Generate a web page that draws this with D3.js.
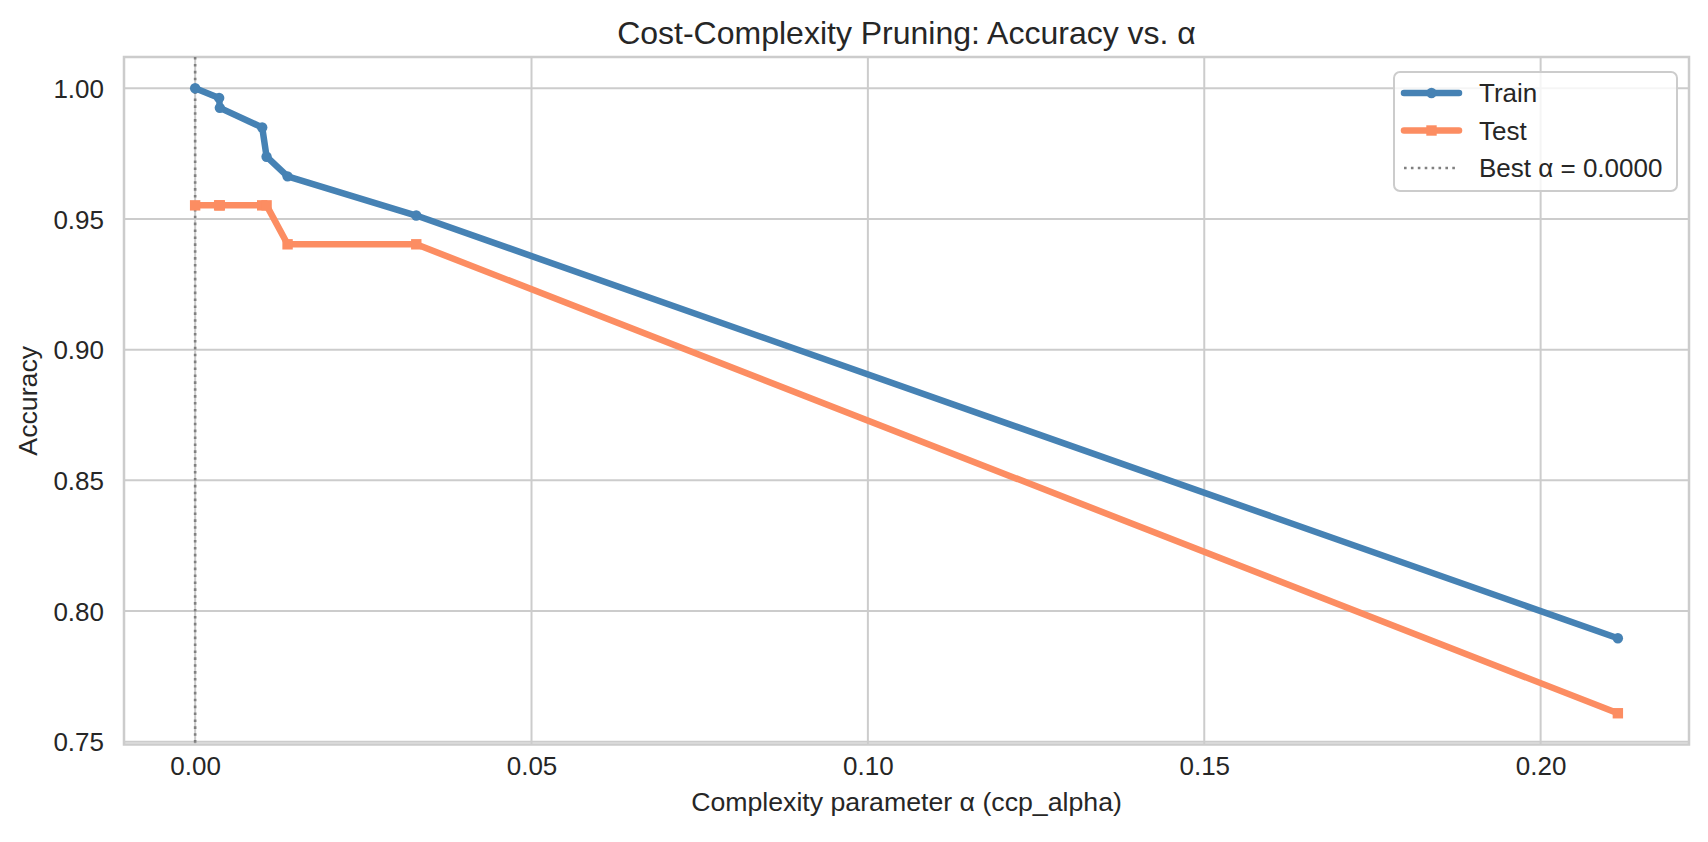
<!DOCTYPE html>
<html>
<head>
<meta charset="utf-8">
<script src="https://cdn.jsdelivr.net/npm/d3@7"></script>
<style>
  body { margin: 0; background: #fff; }
  text { font-family: "Liberation Sans", Arial, sans-serif; fill: #262626; }
</style>
</head>
<body>
<svg width="1708" height="842"></svg>
<script>
// data
var alphas = [0, 0.00357, 0.00367, 0.00997, 0.01062, 0.01374, 0.03287, 0.21148];
var trainAcc = [1.0, 0.9963, 0.9925, 0.9850, 0.9738, 0.9663, 0.9513, 0.7896];
var testAcc = [0.9552, 0.9552, 0.9552, 0.9552, 0.9552, 0.9403, 0.9403, 0.7609];
var bestAlpha = 0;
var xTicks = [0, 0.05, 0.10, 0.15, 0.20];
var yTicks = [0.75, 0.80, 0.85, 0.90, 0.95, 1.00];

var svg = d3.select("svg"),
    width = +svg.attr("width"),
    height = +svg.attr("height");

// plot area (window.top is taken, so use names of our own)
var pLeft = 124, pRight = 1689, pTop = 57, pBottom = 744.5;

// matplotlib style 5% margins
function pad(ext) {
    var d = (ext[1] - ext[0]) * 0.05;
    return [ext[0] - d, ext[1] + d];
}

var x = d3.scaleLinear()
    .domain(pad(d3.extent(alphas)))
    .range([pLeft, pRight]);

var y = d3.scaleLinear()
    .domain(pad(d3.extent(trainAcc.concat(testAcc))))
    .range([pBottom, pTop]);

// grid
var grid = svg.append("g");
grid.selectAll(".gx")
    .data(xTicks)
    .enter().append("line")
    .attr("x1", function (d) { return x(d); })
    .attr("x2", function (d) { return x(d); })
    .attr("y1", pTop).attr("y2", pBottom)
    .style("stroke", "#cccccc")
    .style("stroke-width", 2);
grid.selectAll(".gy")
    .data(yTicks)
    .enter().append("line")
    .attr("x1", pLeft).attr("x2", pRight)
    .attr("y1", function (d) { return y(d); })
    .attr("y2", function (d) { return y(d); })
    .style("stroke", "#cccccc")
    .style("stroke-width", 2);

// axes, no tick marks
var xAxis = svg.append("g")
    .attr("transform", "translate(0," + pBottom + ")")
    .call(d3.axisBottom(x).tickValues(xTicks).tickFormat(d3.format(".2f")).tickSize(0).tickPadding(30));
var yAxis = svg.append("g")
    .attr("transform", "translate(" + pLeft + ",0)")
    .call(d3.axisLeft(y).tickValues(yTicks).tickFormat(d3.format(".2f")).tickSize(0).tickPadding(20));
[xAxis, yAxis].forEach(function (a) {
    a.select(".domain").remove();
    a.selectAll("text")
        .style("font-size", "26px")
        .style("font-family", "'Liberation Sans', Arial, sans-serif")
        .attr("fill", "#262626");
});
xAxis.selectAll("text").attr("dy", "0");
yAxis.selectAll("text").attr("dy", "0.35em");

// frame
svg.append("rect")
    .attr("x", pLeft).attr("y", pTop)
    .attr("width", pRight - pLeft).attr("height", pBottom - pTop)
    .style("fill", "none")
    .style("stroke", "#cccccc")
    .style("stroke-width", 2.5);

// best alpha line
svg.append("line")
    .attr("x1", x(bestAlpha)).attr("x2", x(bestAlpha))
    .attr("y1", pTop).attr("y2", pBottom)
    .style("stroke", "#808080")
    .style("stroke-width", 2.6)
    .style("stroke-dasharray", "2.6,4.3");

var line = d3.line()
    .x(function (d) { return x(d[0]); })
    .y(function (d) { return y(d[1]); });

var trainPts = d3.zip(alphas, trainAcc);
var testPts = d3.zip(alphas, testAcc);

svg.append("path")
    .attr("d", line(trainPts))
    .style("fill", "none")
    .style("stroke", "#4682b4")
    .style("stroke-width", 6.5)
    .style("stroke-linejoin", "round");
svg.selectAll(".trainDot")
    .data(trainPts)
    .enter().append("circle")
    .attr("cx", function (d) { return x(d[0]); })
    .attr("cy", function (d) { return y(d[1]); })
    .attr("r", 5.2)
    .style("fill", "#4682b4");

svg.append("path")
    .attr("d", line(testPts))
    .style("fill", "none")
    .style("stroke", "#fc8d62")
    .style("stroke-width", 6.5)
    .style("stroke-linejoin", "round");
svg.selectAll(".testSq")
    .data(testPts)
    .enter().append("rect")
    .attr("x", function (d) { return x(d[0]) - 5.2; })
    .attr("y", function (d) { return y(d[1]) - 5.2; })
    .attr("width", 10.4).attr("height", 10.4)
    .style("fill", "#fc8d62");

// title and labels
svg.append("text")
    .attr("x", (pLeft + pRight) / 2).attr("y", 44)
    .attr("text-anchor", "middle")
    .style("font-size", "32px")
    .text("Cost-Complexity Pruning: Accuracy vs. α");
svg.append("text")
    .attr("x", (pLeft + pRight) / 2).attr("y", 811)
    .attr("text-anchor", "middle")
    .style("font-size", "26.7px")
    .text("Complexity parameter α (ccp_alpha)");
svg.append("text")
    .attr("transform", "translate(37," + (pTop + pBottom) / 2 + ") rotate(-90)")
    .attr("text-anchor", "middle")
    .style("font-size", "26.7px")
    .text("Accuracy");

// legend
var lg = svg.append("g").attr("transform", "translate(1394,72)");
lg.append("rect")
    .attr("width", 283).attr("height", 119)
    .attr("rx", 6)
    .style("fill", "#ffffff").style("fill-opacity", 0.8)
    .style("stroke", "#cccccc").style("stroke-width", 2);
var entries = [
    { name: "Train", color: "#4682b4", mark: "circle", dash: null },
    { name: "Test", color: "#fc8d62", mark: "square", dash: null },
    { name: "Best α = " + bestAlpha.toFixed(4), color: "#808080", mark: null, dash: "2.6,4.3" }
];
entries.forEach(function (e, i) {
    var cy = 21 + i * 37.5;
    lg.append("line")
        .attr("x1", 10).attr("x2", 65)
        .attr("y1", cy).attr("y2", cy)
        .style("stroke", e.color)
        .style("stroke-width", e.dash ? 2.6 : 6.5)
        .style("stroke-linecap", e.dash ? "butt" : "round")
        .style("stroke-dasharray", e.dash);
    if (e.mark == "circle") {
        lg.append("circle").attr("cx", 37.5).attr("cy", cy).attr("r", 5.2).style("fill", e.color);
    } else if (e.mark == "square") {
        lg.append("rect").attr("x", 32.3).attr("y", cy - 5.2).attr("width", 10.4).attr("height", 10.4).style("fill", e.color);
    }
    lg.append("text")
        .attr("x", 85).attr("y", cy)
        .attr("dy", "0.35em")
        .style("font-size", "26px")
        .text(e.name);
});
</script>
</body>
</html>
